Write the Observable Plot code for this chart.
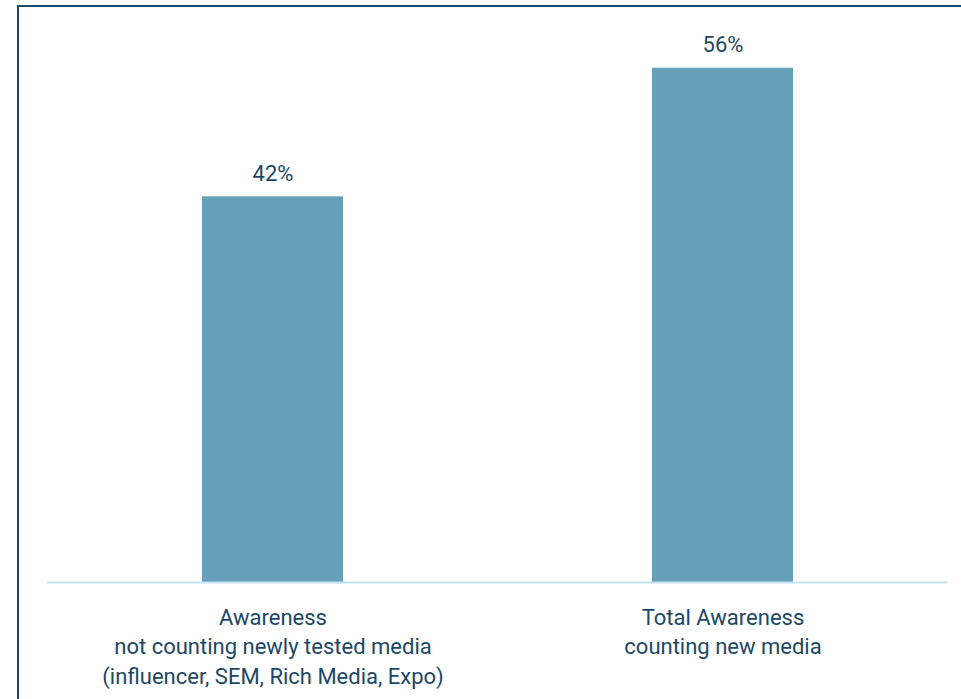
<!DOCTYPE html>
<html>
<head>
<meta charset="utf-8">
<script src="https://cdn.jsdelivr.net/npm/d3@7"></script>
<script src="https://cdn.jsdelivr.net/npm/@observablehq/plot@0.6"></script>
<style>
  html, body { margin: 0; padding: 0; background: #fff; overflow: hidden; width: 961px; height: 699px; }
  #wrap { position: relative; width: 961px; height: 699px; }
  #frame { position: absolute; left: 17px; top: 5px; width: 2000px; height: 2000px;
           border-left: 2px solid #1d4b69; border-top: 2px solid #1d4b69; box-sizing: border-box; pointer-events: none; }
  #chart { position: absolute; left: 0; top: 0; }
</style>
</head>
<body>
<div id="wrap">
  <div id="chart"></div>
  <div id="frame"></div>
</div>
<script>
const categories = ["not-counting", "counting"];
const categoryLabels = [
  "Awareness\nnot counting newly tested media\n(influencer, SEM, Rich Media, Expo)",
  "Total Awareness\ncounting new media"
];
const values = [42, 56];
const valueLabels = ["42%", "56%"];

const data = categories.map((c, i) => ({ cat: c, label: categoryLabels[i], value: values[i], text: valueLabels[i] }));

const font = "Roboto, 'Liberation Sans Narrow', 'DejaVu Sans Condensed', sans-serif";
const textColor = "#1b4866";

const chart = Plot.plot({
  width: 961,
  height: 699,
  marginLeft: 47,
  marginRight: 14,
  marginTop: 31,
  marginBottom: 117,
  style: { fontFamily: font, background: "transparent" },
  x: { domain: categories, paddingInner: 0.687, paddingOuter: 0.3435, axis: null },
  y: { domain: [0, 60], axis: null },
  marks: [
    Plot.barY(data, { x: "cat", y: "value", fill: "#67a0bb" }),
    Plot.ruleY([0], { stroke: "#c3e3f5", strokeWidth: 2 }),
    Plot.text(data, { x: "cat", y: "value", text: "text", lineAnchor: "bottom", dy: -16, fontSize: 22, fill: textColor }),
    Plot.text(data, { x: "cat", y: 0, text: "label", lineAnchor: "top", dy: 21, fontSize: 22, lineHeight: 1.35, fill: textColor })
  ]
});
document.getElementById("chart").appendChild(chart);
</script>
</body>
</html>
